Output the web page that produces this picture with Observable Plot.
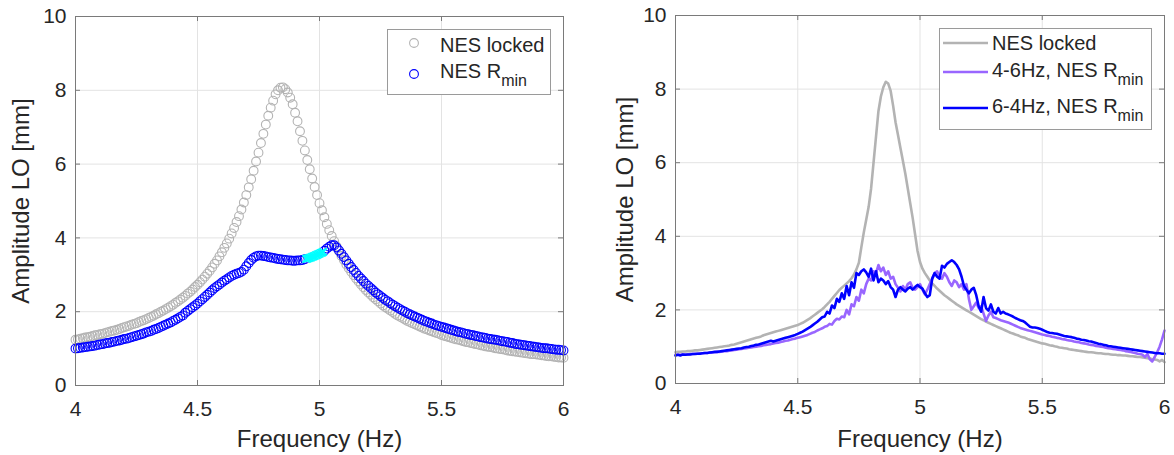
<!DOCTYPE html>
<html><head><meta charset="utf-8">
<script src="https://cdn.jsdelivr.net/npm/d3@7"></script>
<script src="https://cdn.jsdelivr.net/npm/@observablehq/plot@0.6"></script>
<style>
html,body{margin:0;padding:0;background:#fff;}
#wrap{position:relative;width:1174px;height:455px;overflow:hidden;font-family:"Liberation Sans",Arial,sans-serif;color:#262626;}
.panel{position:absolute;top:0;}
.legend{position:absolute;background:#fff;border:1px solid #9a9a9a;box-sizing:border-box;}
.item{position:absolute;font-size:20px;white-space:nowrap;line-height:20px;}
.item sub{font-size:16px;vertical-align:-8px;line-height:0;}
.sym{position:absolute;overflow:visible;}
</style></head><body><div id="wrap"></div>
<script>
// ---------- data ----------
const xTicks = [4, 4.5, 5, 5.5, 6];
const yTicks = [0, 2, 4, 6, 8, 10];
const freq = d3.range(201).map(i => +(4 + i / 100).toFixed(2)); // 4.00 ... 6.00 Hz

// Left panel: NES locked (grey circles)
const leftLocked = [
1.24,1.25,1.27,1.28,1.30,1.31,1.32,1.34,1.36,1.37,
1.39,1.40,1.42,1.44,1.46,1.48,1.49,1.51,1.53,1.56,
1.58,1.60,1.62,1.65,1.67,1.69,1.72,1.75,1.77,1.80,
1.83,1.86,1.89,1.93,1.96,2.00,2.03,2.07,2.11,2.15,
2.19,2.24,2.28,2.33,2.38,2.43,2.49,2.54,2.60,2.67,
2.73,2.80,2.87,2.95,3.03,3.11,3.20,3.30,3.39,3.50,
3.61,3.73,3.85,3.98,4.12,4.27,4.43,4.59,4.77,4.96,
5.16,5.37,5.59,5.82,6.07,6.31,6.57,6.82,7.07,7.31,
7.53,7.72,7.89,8.00,8.07,8.08,8.03,7.94,7.80,7.62,
7.39,7.16,6.89,6.63,6.37,6.11,5.86,5.61,5.38,5.16,
4.94,4.75,4.56,4.38,4.21,4.05,3.91,3.77,3.64,3.51,
3.40,3.28,3.18,3.08,2.99,2.90,2.82,2.74,2.66,2.59,
2.52,2.46,2.39,2.34,2.28,2.22,2.17,2.12,2.08,2.03,
1.99,1.94,1.90,1.86,1.83,1.79,1.75,1.72,1.69,1.66,
1.63,1.60,1.57,1.54,1.52,1.49,1.47,1.44,1.42,1.40,
1.37,1.35,1.33,1.31,1.29,1.27,1.25,1.24,1.22,1.20,
1.18,1.17,1.15,1.14,1.12,1.11,1.09,1.08,1.06,1.05,
1.04,1.03,1.01,1.00,0.99,0.98,0.97,0.95,0.94,0.93,
0.92,0.91,0.90,0.89,0.88,0.87,0.86,0.85,0.85,0.84,
0.83,0.82,0.81,0.80,0.79,0.79,0.78,0.77,0.76,0.76,
0.75];

// Left panel: NES Rmin (blue circles); null where the cyan points are
const leftRmin = [
1.00,1.01,1.02,1.03,1.04,1.05,1.06,1.07,1.08,1.10,
1.11,1.12,1.14,1.15,1.16,1.18,1.19,1.21,1.22,1.24,
1.26,1.27,1.29,1.31,1.33,1.35,1.37,1.39,1.41,1.44,
1.46,1.48,1.51,1.53,1.56,1.59,1.62,1.65,1.68,1.71,
1.75,1.78,1.82,1.86,1.90,1.97,2.02,2.07,2.12,2.17,
2.22,2.28,2.34,2.40,2.46,2.52,2.58,2.64,2.69,2.74,
2.79,2.84,2.88,2.93,2.97,3.00,3.03,3.05,3.08,3.14,
3.23,3.32,3.40,3.46,3.50,3.52,3.52,3.51,3.50,3.48,
3.47,3.46,3.44,3.43,3.42,3.41,3.40,3.39,3.39,3.38,
3.38,3.39,3.39,3.40,3.42,null,null,null,null,null,
null,null,3.65,3.71,3.76,3.80,3.80,3.74,3.66,3.57,
3.48,3.39,3.30,3.21,3.13,3.05,2.97,2.90,2.83,2.76,
2.70,2.64,2.58,2.52,2.47,2.42,2.37,2.32,2.28,2.23,
2.19,2.15,2.11,2.07,2.03,2.00,1.96,1.93,1.90,1.87,
1.84,1.81,1.78,1.75,1.73,1.70,1.68,1.65,1.63,1.61,
1.59,1.57,1.55,1.53,1.51,1.49,1.47,1.45,1.44,1.42,
1.40,1.39,1.37,1.36,1.34,1.33,1.31,1.30,1.29,1.27,
1.26,1.25,1.24,1.23,1.21,1.20,1.19,1.18,1.16,1.15,
1.13,1.12,1.11,1.10,1.09,1.08,1.07,1.06,1.05,1.04,
1.03,1.02,1.01,1.01,1.00,0.99,0.98,0.97,0.97,0.96,
0.95];

// Left panel: cyan points
const cyanFreq = [4.945,4.95,4.955,4.96,4.965,4.97,4.975,4.98,4.985,4.99,4.995,5.0,5.005,5.01,5.015];
const cyanAmp  = [3.43,3.44,3.45,3.46,3.47,3.49,3.50,3.51,3.53,3.54,3.56,3.57,3.59,3.60,3.62];

// Right panel: NES locked (grey line)
const rightLocked = [
0.85,0.86,0.86,0.87,0.87,0.88,0.88,0.89,0.90,0.90,
0.91,0.92,0.93,0.94,0.95,0.96,0.97,0.98,0.99,1.00,
1.01,1.02,1.03,1.05,1.06,1.08,1.10,1.12,1.14,1.16,
1.18,1.20,1.22,1.24,1.26,1.28,1.31,1.33,1.35,1.37,
1.39,1.41,1.43,1.45,1.47,1.49,1.51,1.53,1.55,1.57,
1.59,1.62,1.65,1.69,1.73,1.77,1.82,1.87,1.92,1.97,
2.02,2.08,2.15,2.22,2.30,2.38,2.46,2.54,2.60,2.66,
2.72,2.78,2.86,2.96,3.10,3.28,3.70,4.10,4.45,4.80,
5.30,6.00,6.70,7.40,7.80,8.05,8.20,8.15,7.95,7.55,
7.10,6.75,6.40,6.05,5.70,5.30,4.90,4.50,4.05,3.60,
3.30,3.12,3.00,2.90,2.80,2.72,2.65,2.58,2.52,2.46,
2.40,2.35,2.30,2.25,2.20,2.15,2.11,2.07,2.03,1.99,
1.95,1.91,1.87,1.83,1.79,1.75,1.72,1.68,1.65,1.62,
1.59,1.56,1.53,1.50,1.47,1.44,1.41,1.38,1.36,1.33,
1.31,1.28,1.26,1.24,1.21,1.19,1.17,1.15,1.13,1.11,
1.09,1.08,1.06,1.04,1.03,1.01,1.00,0.98,0.97,0.96,
0.95,0.93,0.92,0.91,0.90,0.89,0.88,0.87,0.86,0.85,
0.85,0.84,0.83,0.82,0.82,0.81,0.80,0.80,0.79,0.78,
0.78,0.77,0.77,0.76,0.76,0.75,0.74,0.74,0.73,0.72,
0.72,0.71,0.70,0.69,0.68,0.66,0.65,0.64,0.60,0.64,
0.58];

// Right panel: 4-6Hz sweep, NES Rmin (purple line)
const sweepUp = [
0.78,0.78,0.78,0.79,0.79,0.79,0.80,0.80,0.81,0.81,
0.82,0.82,0.83,0.83,0.84,0.84,0.85,0.86,0.86,0.87,
0.88,0.88,0.89,0.90,0.91,0.92,0.93,0.94,0.95,0.96,
0.97,0.98,0.99,1.00,1.01,1.02,1.04,1.05,1.06,1.07,
1.09,1.10,1.11,1.13,1.14,1.16,1.17,1.19,1.21,1.22,
1.24,1.26,1.28,1.30,1.32,1.35,1.38,1.40,1.44,1.47,
1.50,1.54,1.56,1.62,1.60,1.70,1.76,1.74,1.82,1.80,
2.00,1.88,2.15,2.10,2.35,2.25,2.55,2.45,2.70,2.85,
2.80,3.05,3.00,3.22,3.05,3.15,2.95,3.05,2.85,2.90,
2.70,2.60,2.50,2.65,2.55,2.70,2.75,2.60,2.55,2.62,
2.70,2.55,2.42,2.55,2.70,2.85,3.00,3.05,2.90,2.85,
3.00,2.90,2.75,2.65,2.80,2.75,2.62,2.70,2.55,2.70,
2.30,2.00,2.10,2.20,2.05,2.10,1.90,1.70,1.85,1.95,
1.80,1.78,1.75,1.72,1.70,1.68,1.66,1.63,1.60,1.57,
1.54,1.51,1.49,1.47,1.45,1.43,1.41,1.39,1.37,1.35,
1.33,1.32,1.30,1.29,1.27,1.26,1.24,1.23,1.21,1.20,
1.18,1.17,1.16,1.14,1.13,1.12,1.10,1.09,1.08,1.06,
1.05,1.04,1.02,1.01,1.00,0.99,0.97,0.96,0.95,0.94,
0.93,0.92,0.91,0.90,0.88,0.87,0.86,0.84,0.83,0.81,
0.80,0.78,0.72,0.80,0.66,0.60,0.72,0.85,1.00,1.20,
1.44];

// Right panel: 6-4Hz sweep, NES Rmin (blue line)
const sweepDown = [
0.76,0.78,0.76,0.79,0.78,0.79,0.79,0.80,0.80,0.81,
0.81,0.82,0.83,0.83,0.84,0.85,0.86,0.86,0.87,0.88,
0.89,0.90,0.91,0.92,0.93,0.94,0.95,0.96,0.98,0.99,
1.00,1.02,1.03,1.05,1.06,1.08,1.10,1.12,1.14,1.16,
1.14,1.16,1.18,1.20,1.22,1.24,1.26,1.28,1.30,1.32,
1.35,1.38,1.41,1.45,1.49,1.53,1.58,1.63,1.68,1.74,
1.80,1.82,1.95,1.90,2.12,2.05,2.30,2.22,2.45,2.30,
2.65,2.40,2.75,2.60,3.00,2.95,3.05,3.10,3.02,2.90,
3.12,2.80,3.05,2.75,2.85,2.80,2.70,2.78,2.62,2.55,
2.35,2.55,2.62,2.55,2.50,2.58,2.62,2.55,2.62,2.68,
2.62,2.58,2.45,2.35,2.40,2.85,3.00,2.90,2.85,3.20,
3.15,3.25,3.30,3.35,3.30,3.22,3.10,2.90,2.65,2.55,
2.45,2.55,2.60,2.40,2.10,1.95,2.35,2.05,1.98,2.15,
1.95,1.90,2.05,1.90,1.95,1.90,1.88,1.85,1.82,1.78,
1.75,1.72,1.70,1.66,1.60,1.54,1.52,1.52,1.51,1.49,
1.46,1.43,1.40,1.38,1.37,1.36,1.35,1.33,1.31,1.29,
1.28,1.27,1.26,1.24,1.22,1.21,1.19,1.18,1.17,1.15,
1.14,1.12,1.10,1.08,1.07,1.05,1.04,1.02,1.01,1.00,
0.99,0.98,0.97,0.96,0.95,0.94,0.93,0.92,0.91,0.90,
0.89,0.88,0.87,0.86,0.85,0.84,0.83,0.82,0.82,0.81,
0.81];

// ---------- colours ----------
const GREY = "#b3b3b3", BLUE = "#0000ff", PURPLE = "#9966ff", CYAN = "#00ffff";
const FRAME = "#7a7a7a", GRID = "#e3e3e3";

function panel({width, ml, mr, mt, mb, marks, xLabelDy, yLabelDx}) {
  const height = 455;
  const innerW = width - ml - mr, innerH = height - mt - mb;
  return Plot.plot({
    width, height, marginLeft: ml, marginRight: mr, marginTop: mt, marginBottom: mb,
    style: {fontFamily: '"Liberation Sans", Arial, sans-serif', fontSize: "21px", color: "#262626", background: "transparent", overflow: "visible"},
    x: {domain: [4, 6]},
    y: {domain: [0, 10]},
    marks: [
      Plot.ruleX(xTicks, {stroke: GRID}),
      Plot.ruleY(yTicks, {stroke: GRID}),
      ...marks,
      Plot.frame({stroke: FRAME}),
      Plot.ruleX(xTicks, {insetTop: innerH - 5, stroke: FRAME}),
      Plot.ruleX(xTicks, {insetBottom: innerH - 5, stroke: FRAME}),
      Plot.ruleY(yTicks, {insetRight: innerW - 5, stroke: FRAME}),
      Plot.ruleY(yTicks, {insetLeft: innerW - 5, stroke: FRAME}),
      Plot.axisX(xTicks, {tickSize: 0, tickPadding: 16, tickFormat: d => String(d), label: null, fill: "#262626"}),
      Plot.axisY(yTicks, {tickSize: 0, tickPadding: 9, tickFormat: d => String(d), label: null, fill: "#262626"}),
      Plot.text(["Frequency (Hz)"], {x: null, y: null, text: d => d, frameAnchor: "bottom", textAnchor: "middle", lineAnchor: "middle", dy: xLabelDy, fontSize: 24, fill: "#262626"}),
      Plot.text(["Amplitude LO [mm]"], {x: null, y: null, text: d => d, frameAnchor: "left", textAnchor: "middle", lineAnchor: "middle", rotate: -90, dx: -yLabelDx, fontSize: 24, fill: "#262626"})
    ]
  });
}

const wrap = document.getElementById("wrap");

const left = panel({
  width: 590, ml: 75, mr: 27, mt: 16, mb: 70, xLabelDy: 54, yLabelDx: 54,
  marks: [
    Plot.dot(leftLocked, {x: freq, y: leftLocked, r: 4.4, stroke: GREY, strokeWidth: 1.1, fill: "none"}),
    Plot.dot(leftRmin, {x: freq, y: leftRmin, r: 4.4, stroke: BLUE, strokeWidth: 1.1, fill: "none"}),
    Plot.dot(cyanAmp, {x: cyanFreq, y: cyanAmp, r: 3.5, symbol: "times", stroke: CYAN, strokeWidth: 1.6})
  ]
});
const leftDiv = document.createElement("div");
leftDiv.className = "panel"; leftDiv.style.left = "0px";
leftDiv.appendChild(left);
wrap.appendChild(leftDiv);

const right = panel({
  width: 584, ml: 85, mr: 10, mt: 15, mb: 72, xLabelDy: 56, yLabelDx: 50,
  marks: [
    Plot.line(rightLocked, {x: freq, y: rightLocked, stroke: GREY, strokeWidth: 2.6}),
    Plot.line(sweepUp, {x: freq, y: sweepUp, stroke: PURPLE, strokeWidth: 2.6}),
    Plot.line(sweepDown, {x: freq, y: sweepDown, stroke: BLUE, strokeWidth: 2.6})
  ]
});
const rightDiv = document.createElement("div");
rightDiv.className = "panel"; rightDiv.style.left = "590px";
rightDiv.appendChild(right);
wrap.appendChild(rightDiv);

// ---------- legends ----------
function box(l, t, w, h) {
  const d = document.createElement("div");
  d.className = "legend";
  Object.assign(d.style, {left: l + "px", top: t + "px", width: w + "px", height: h + "px"});
  wrap.appendChild(d);
}
function label(l, t, html) {
  const d = document.createElement("div");
  d.className = "item";
  d.style.left = l + "px"; d.style.top = t + "px";
  d.innerHTML = html;
  wrap.appendChild(d);
}
function svgSym(l, t, w, h, inner) {
  const ns = "http://www.w3.org/2000/svg";
  const s = document.createElementNS(ns, "svg");
  s.setAttribute("class", "sym");
  s.setAttribute("width", w); s.setAttribute("height", h);
  s.style.left = l + "px"; s.style.top = t + "px";
  s.innerHTML = inner;
  wrap.appendChild(s);
}

// left legend
box(387, 29, 164, 66);
svgSym(407, 36, 14, 14, `<circle cx="7" cy="7" r="4.4" fill="none" stroke="${GREY}" stroke-width="1.1"/>`);
svgSym(407, 67, 14, 14, `<circle cx="7" cy="7" r="4.4" fill="none" stroke="${BLUE}" stroke-width="1.1"/>`);
label(440, 35, "NES locked");
label(440, 61, "NES R<sub>min</sub>");

// right legend
box(939, 28, 213, 102);
svgSym(943, 38, 46, 10, `<line x1="0" y1="5" x2="45" y2="5" stroke="${GREY}" stroke-width="2.6"/>`);
svgSym(943, 67, 46, 10, `<line x1="0" y1="5" x2="45" y2="5" stroke="${PURPLE}" stroke-width="2.6"/>`);
svgSym(943, 103, 46, 10, `<line x1="0" y1="5" x2="45" y2="5" stroke="${BLUE}" stroke-width="2.6"/>`);
label(992, 33, "NES locked");
label(992, 60, "4-6Hz, NES R<sub>min</sub>");
label(992, 96, "6-4Hz, NES R<sub>min</sub>");
</script>
</body></html>
